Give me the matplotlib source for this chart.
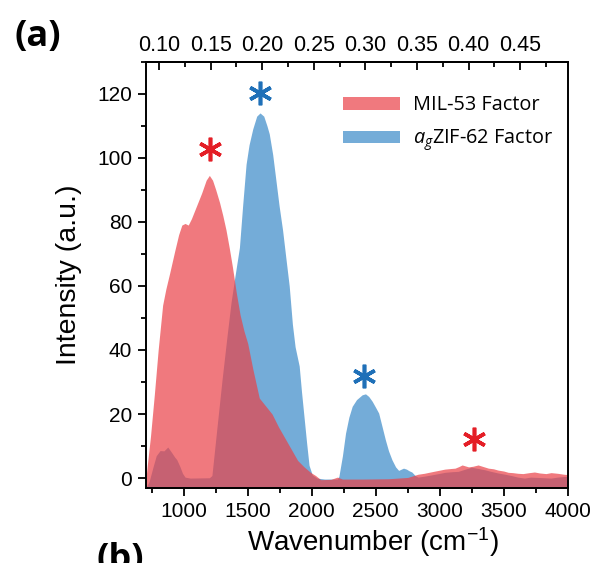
import numpy as np
import matplotlib
matplotlib.use("Agg")
import matplotlib.pyplot as plt
from matplotlib.patches import Patch
from matplotlib.ticker import MultipleLocator, FormatStrFormatter

plt.rcParams['font.family'] = ['Liberation Sans', 'DejaVu Sans']
plt.rcParams['mathtext.fontset'] = 'custom'
plt.rcParams['mathtext.rm'] = 'Liberation Sans'
plt.rcParams['mathtext.it'] = 'Open Sans:italic'

# ---- data ----
mil_wn = [705, 715, 740, 770, 800, 835, 860, 890, 930, 960, 985, 1010, 1035, 1060,
          1100, 1140, 1175, 1200, 1225, 1250, 1280, 1305, 1330, 1355, 1380, 1410,
          1440, 1470, 1500, 1540, 1590, 1640, 1690, 1740, 1790, 1840, 1890, 1940,
          1990, 2030, 2070, 2150, 2200, 2240, 2400, 2600, 2750, 2830, 2880, 2940,
          2990, 3040, 3090, 3120, 3150, 3175, 3200, 3225, 3260, 3300, 3340, 3380,
          3420, 3455, 3500, 3535, 3570, 3610, 3650, 3700, 3740, 3780, 3830, 3870,
          3920, 3970, 4000]
mil_int = [0, 4, 13, 26, 40, 54, 59, 64, 71, 76, 79, 79.5, 79, 81,
           85, 89, 93, 94.5, 93, 90, 86, 82, 77.5, 72, 66, 58,
           51, 46, 42, 34, 25, 22.5, 20, 16, 12.5, 9, 5.5, 3.5,
           1.8, 0.8, -0.5, -0.4, 0.3, -0.3, -0.3, -0.2, 0.2, 1.2, 1.5, 2.0,
           2.4, 2.8, 3.0, 3.1, 3.6, 4.1, 3.8, 3.5, 3.7, 4.1, 3.6, 3.1,
           2.9, 2.5, 2.2, 1.8, 1.7, 1.5, 1.4, 1.7, 1.9, 1.6, 1.4, 1.7,
           1.5, 1.2, 1.1]

zif_wn = [705, 730, 760, 785, 815, 845, 875, 905, 930, 945, 970, 990, 1010, 1050,
          1200, 1220, 1260, 1300, 1340, 1370, 1400, 1435, 1460, 1487, 1510, 1539,
          1570, 1596, 1625, 1650, 1668, 1695, 1720, 1745, 1772, 1800, 1824, 1849,
          1870, 1902, 1920, 1940, 1960, 1979, 2004, 2040, 2100, 2200, 2212, 2240,
          2264, 2290, 2316, 2350, 2394, 2420, 2445, 2472, 2500, 2523, 2550, 2575,
          2600, 2627, 2655, 2679, 2700, 2717, 2740, 2760, 2782, 2808, 2830, 2880,
          2937, 2990, 3041, 3100, 3144, 3200, 3248, 3300, 3352, 3400, 3455, 3510,
          3559, 3610, 3662, 3710, 3766, 3820, 3870, 3920, 3973, 4000]
zif_int = [-3, -1, 3.5, 7, 8.6, 8.5, 9.7, 8, 6.5, 5.8, 3.6, 1.5, 0.3, 0,
           0.1, 0.8, 16, 31, 45, 55, 63, 72, 85, 98, 104, 109,
           113, 114, 113, 110, 107.5, 101, 93, 85, 77.5, 68, 60, 48,
           41, 35, 27, 19, 11, 4, 1, 0, -0.3, -0.3, 0.5, 7,
           14, 19, 22.4, 24.5, 26, 26.3, 25.5, 24, 22, 20.3, 16, 12,
           8.5, 5.7, 3.5, 2.4, 2.8, 3.1, 2.8, 2.3, 1.9, 0.8, 0.3, 0.6,
           1.0, 1.4, 1.8, 2.0, 2.1, 2.8, 3.4, 3.0, 2.6, 2.1, 1.6, 1.2,
           0.8, 0.3, 0, 0.3, 0.2, 0.1, 0, 0.3, 0.5, 0.5]

zif_stars_wn = [1598, 2412]
zif_stars_int = [120.2, 32]
mil_stars_wn = [1202, 3267]
mil_stars_int = [102.6, 12.3]

labels = ['MIL-53 Factor', r'$\mathit{a}_{\mathit{g}}$ZIF-62 Factor']
red = '#EA4147'
blue = '#74ACD8'
red_star = '#E41E26'
blue_star = '#1F70B8'

fig = plt.figure(figsize=(5.95, 5.63), dpi=100)
ax = fig.add_axes([146/595, 1-487.7/563, (567.7-146)/595, (487.7-61.7)/563])

base = -10
ax.fill_between(zif_wn, zif_int, base, color=blue, lw=0, zorder=1)
ax.fill_between(mil_wn, mil_int, base, color=red, alpha=0.7, lw=0, zorder=2)

ax.plot(mil_stars_wn, mil_stars_int, ls='none', marker=(6, 2, 0), ms=17,
        mew=2.6, color=red_star, zorder=3)
ax.plot(zif_stars_wn, zif_stars_int, ls='none', marker=(6, 2, 0), ms=17,
        mew=2.6, color=blue_star, zorder=3)

ax.set_xlim(705, 4000)
ax.set_ylim(-3, 130)

ax.xaxis.set_major_locator(MultipleLocator(500))
ax.xaxis.set_minor_locator(MultipleLocator(250))
ax.yaxis.set_major_locator(MultipleLocator(20))
ax.yaxis.set_minor_locator(MultipleLocator(10))
ax.tick_params(axis='both', which='major', direction='out', length=6, width=1.3,
               labelsize=15, pad=4, top=False, right=False)
ax.tick_params(axis='both', which='minor', direction='out', length=3.5, width=1.3,
               top=False, right=False)
for s in ax.spines.values():
    s.set_linewidth(1.4)

k = 1.23984e-4
sec = ax.secondary_xaxis('top', functions=(lambda w: w * k, lambda e: e / k))
sec.xaxis.set_major_locator(MultipleLocator(0.05))
sec.xaxis.set_minor_locator(MultipleLocator(0.025))
sec.xaxis.set_major_formatter(FormatStrFormatter('%.2f'))
sec.tick_params(axis='x', which='major', direction='in', length=6, width=1.3,
                labelsize=15.5, pad=4)
sec.tick_params(axis='x', which='minor', direction='in', length=3.5, width=1.3)
sec.spines['top'].set_linewidth(1.4)

ax.set_xlabel('Wavenumber (cm$^{-1}$)', fontsize=20)
ax.xaxis.set_label_coords((372.5 - 146) / 421.7, -0.088)
ax.set_ylabel('Intensity (a.u.)', fontsize=20.5, labelpad=11)

handles = [Patch(facecolor=red, alpha=0.7, lw=0), Patch(facecolor=blue, lw=0)]
ax.legend(handles, labels, loc='upper left', bbox_to_anchor=(0.424, 0.963),
          frameon=False, prop={'family': 'Open Sans', 'size': 14.3},
          handlelength=2.9, handleheight=0.6, handletextpad=0.65, labelspacing=0.62)

fig.text(14/595, 1-46/563, '(a)', fontsize=26, fontweight='bold',
         family='Open Sans', ha='left', va='baseline')
fig.text(97/595, -0.011, '(b)', fontsize=26, fontweight='bold',
         family='Open Sans', ha='left', va='baseline')

fig.savefig('out.png', dpi=100)
